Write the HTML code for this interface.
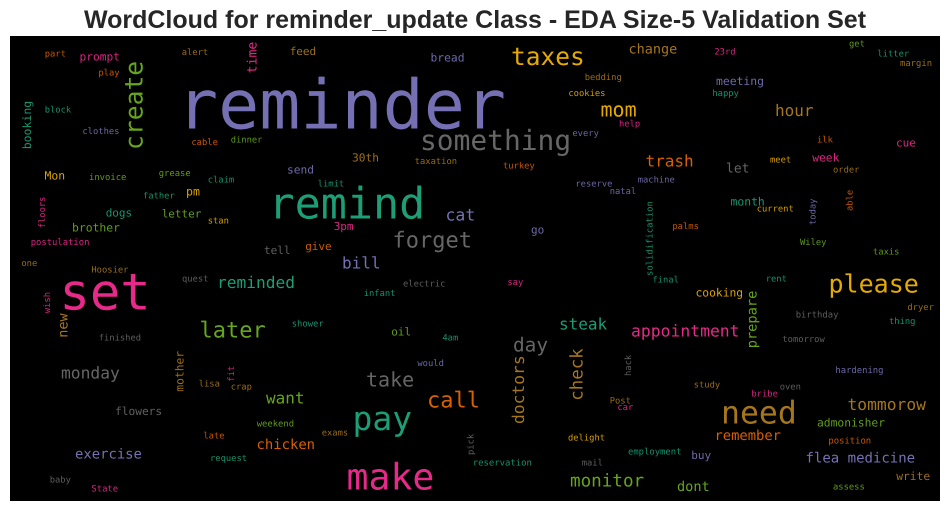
<!DOCTYPE html>
<html lang="en">
<head>
<meta charset="utf-8">
<title>WordCloud for reminder_update Class</title>
<style>
html,body{margin:0;padding:0;background:#fff;width:950px;height:511px;overflow:hidden}
svg{display:block}
#w text{font-family:"DejaVu Sans Mono","Liberation Mono",monospace;text-rendering:geometricPrecision}
.t{fill:#1b9e77}.o{fill:#d95f02}.p{fill:#7570b3}.k{fill:#e7298a}.g{fill:#66a61e}.y{fill:#e6ab02}.b{fill:#a6761d}.a{fill:#666666}
.s{opacity:.92}.m{opacity:.95}
</style>
</head>
<body>
<svg width="950" height="511" viewBox="0 0 950 511" xmlns="http://www.w3.org/2000/svg">
<defs><filter id="soft" x="-2%" y="-2%" width="104%" height="104%"><feGaussianBlur stdDeviation="0.25"/></filter></defs>
<text x="475" y="28" text-anchor="middle" font-family="'Liberation Sans',Arial,sans-serif" font-weight="700" font-size="25" fill="#262626">WordCloud for reminder_update Class - EDA Size-5 Validation Set</text>
<rect x="10" y="36" width="930" height="465" fill="#000"/>
<g id="w" filter="url(#soft)">
<text x="177" y="128.3" font-size="68.3" class="p">reminder</text>
<text x="268.5" y="218.3" font-size="43.4" class="t">remind</text>
<text x="59.5" y="309.3" font-size="50.5" class="k">set</text>
<text x="346.5" y="489.3" font-size="36.5" class="k">make</text>
<text x="352.5" y="430" font-size="33" class="t">pay</text>
<text x="721" y="423.3" font-size="31.5" class="b">need</text>
<text x="420" y="150" font-size="27.9" class="a">something</text>
<text x="828.5" y="292.3" font-size="25" class="y">please</text>
<text x="511" y="65" font-size="24.5" class="y">taxes</text>
<text x="142.7" y="150" font-size="24.7" class="g" transform="rotate(-90 142.7 150)">create</text>
<text x="199.5" y="337.3" font-size="22" class="g">later</text>
<text x="392.5" y="247.3" font-size="22" class="a">forget</text>
<text x="427" y="407.3" font-size="22" class="o">call</text>
<text x="600.5" y="116.7" font-size="20" class="y">mom</text>
<text x="366" y="386.7" font-size="20" class="a">take</text>
<text x="513" y="351.7" font-size="19.4" class="a">day</text>
<text x="570" y="486.7" font-size="17.6" class="g">monitor</text>
<text x="582.7" y="400.7" font-size="17.4" class="b" transform="rotate(-90 582.7 400.7)">check</text>
<text x="631" y="336.7" font-size="16.4" class="k">appointment</text>
<text x="524" y="424" font-size="16.3" class="b" transform="rotate(-90 524 424)">doctors</text>
<text x="61" y="378.3" font-size="16.3" class="a">monday</text>
<text x="847.5" y="410" font-size="16.3" class="b">tommorow</text>
<text x="217" y="288" font-size="16.2" class="t">reminded</text>
<text x="445.5" y="220.7" font-size="16.5" class="p">cat</text>
<text x="342" y="268.3" font-size="16" class="p">bill</text>
<text x="266" y="403.3" font-size="16" class="g">want</text>
<text x="559" y="329.3" font-size="16" class="t">steak</text>
<text x="775" y="116" font-size="16" class="b">hour</text>
<text x="645.5" y="166.7" font-size="16" class="o">trash</text>
<text x="805.5" y="462.7" font-size="14" class="p">flea medicine</text>
<text x="256.5" y="449" font-size="13.9" class="o">chicken</text>
<text x="75" y="458.3" font-size="13.9" class="p">exercise</text>
<text x="714.5" y="440" font-size="13.8" class="o">remember</text>
<text x="756.5" y="348.3" font-size="13.7" class="g" transform="rotate(-90 756.5 348.3)">prepare</text>
<text x="677" y="491" font-size="13.6" class="g">dont</text>
<text x="628.5" y="53.3" font-size="13.5" class="b">change</text>
<text x="67.3" y="337.7" font-size="13.5" class="b" transform="rotate(-90 67.3 337.7)">new</text>
<text x="256.7" y="73.3" font-size="13.1" class="k" transform="rotate(-90 256.7 73.3)">time</text>
<text x="726" y="172.3" font-size="13" class="a">let</text>
<text x="31" y="149.3" font-size="11.5" class="t m" transform="rotate(-90 31 149.3)">booking</text>
<text x="716" y="85" font-size="11.4" class="p m">meeting</text>
<text x="44.5" y="179.3" font-size="11.4" class="y m">Mon</text>
<text x="72" y="231.3" font-size="11.4" class="g m">brother</text>
<text x="730.5" y="205.7" font-size="11.4" class="t m">month</text>
<text x="186" y="195.7" font-size="11.6" class="y m">pm</text>
<text x="430.5" y="61.7" font-size="11.3" class="p m">bread</text>
<text x="695.5" y="296.7" font-size="11.3" class="y m">cooking</text>
<text x="183.3" y="391.7" font-size="11.3" class="b m" transform="rotate(-90 183.3 391.7)">mother</text>
<text x="812.2" y="161.7" font-size="11.3" class="k m">week</text>
<text x="817" y="426.7" font-size="11.3" class="g m">admonisher</text>
<text x="896.2" y="480" font-size="11.3" class="b m">write</text>
<text x="79.5" y="60.7" font-size="11.2" class="k m">prompt</text>
<text x="287" y="173.3" font-size="11.2" class="p m">send</text>
<text x="115" y="415" font-size="11.2" class="a m">flowers</text>
<text x="352" y="161.7" font-size="11.2" class="b m">30th</text>
<text x="289.7" y="55" font-size="11" class="b m">feed</text>
<text x="105.7" y="216.7" font-size="11" class="t m">dogs</text>
<text x="161.7" y="217.3" font-size="11" class="g m">letter</text>
<text x="264" y="254" font-size="11" class="a m">tell</text>
<text x="305.2" y="250" font-size="11" class="o m">give</text>
<text x="333.7" y="230" font-size="11" class="k m">3pm</text>
<text x="391.2" y="335.7" font-size="11" class="g m">oil</text>
<text x="531" y="233.3" font-size="11" class="p m">go</text>
<text x="691.3" y="459" font-size="11" class="p m">buy</text>
<text x="896" y="146.7" font-size="11" class="k m">cue</text>
<text x="44.7" y="56.7" font-size="8.8" class="o s">part</text>
<text x="98.4" y="75.3" font-size="8.8" class="o s">play</text>
<text x="181.7" y="55" font-size="8.8" class="b s">alert</text>
<text x="44.7" y="112.7" font-size="8.8" class="t s">block</text>
<text x="82.4" y="134" font-size="8.8" class="p s">clothes</text>
<text x="191.4" y="145" font-size="8.8" class="o s">cable</text>
<text x="230.7" y="142.7" font-size="8.8" class="g s">dinner</text>
<text x="89" y="180" font-size="8.9" class="g s">invoice</text>
<text x="158.7" y="176" font-size="8.9" class="g s">grease</text>
<text x="207.7" y="182.7" font-size="8.8" class="t s">claim</text>
<text x="143" y="198.7" font-size="8.8" class="t s">father</text>
<text x="207.7" y="223.7" font-size="8.8" class="y s">stan</text>
<text x="45" y="228.3" font-size="8.8" class="k s" transform="rotate(-90 45 228.3)">floors</text>
<text x="30.7" y="245" font-size="8.9" class="k s">postulation</text>
<text x="21.4" y="266" font-size="8.8" class="b s">one</text>
<text x="91.4" y="272.7" font-size="8.8" class="b s">Hoosier</text>
<text x="182" y="281.7" font-size="8.8" class="a s">quest</text>
<text x="50" y="313.3" font-size="8.9" class="k s" transform="rotate(-90 50 313.3)">wish</text>
<text x="291.7" y="326.7" font-size="8.9" class="t s">shower</text>
<text x="98.7" y="340.7" font-size="8.8" class="a s">finished</text>
<text x="234" y="381.7" font-size="8.8" class="k s" transform="rotate(-90 234 381.7)">fit</text>
<text x="198.7" y="386.7" font-size="8.8" class="b s">lisa</text>
<text x="230.7" y="389.3" font-size="8.8" class="b s">crap</text>
<text x="256.7" y="426.7" font-size="8.9" class="g s">weekend</text>
<text x="203.4" y="438.3" font-size="8.8" class="o s">late</text>
<text x="210" y="461" font-size="8.8" class="t s">request</text>
<text x="49.7" y="482.7" font-size="8.8" class="a s">baby</text>
<text x="91.4" y="491.7" font-size="8.9" class="k s">State</text>
<text x="584.7" y="80" font-size="8.8" class="b s">bedding</text>
<text x="568.4" y="96" font-size="8.8" class="y s">cookies</text>
<text x="619" y="126.7" font-size="8.8" class="k s">help</text>
<text x="572.4" y="136" font-size="8.8" class="p s">every</text>
<text x="414.7" y="164" font-size="8.8" class="b s">taxation</text>
<text x="503" y="168.3" font-size="8.8" class="o s">turkey</text>
<text x="317.7" y="186.7" font-size="8.8" class="t s">limit</text>
<text x="575.4" y="186.7" font-size="8.8" class="p s">reserve</text>
<text x="609.7" y="194" font-size="8.8" class="p s">natal</text>
<text x="403" y="286.7" font-size="8.8" class="a s">electric</text>
<text x="507.4" y="285" font-size="8.8" class="k s">say</text>
<text x="363.7" y="296" font-size="8.8" class="t s">infant</text>
<text x="442.4" y="340.3" font-size="8.8" class="t s">4am</text>
<text x="417.4" y="366" font-size="8.8" class="p s">would</text>
<text x="631" y="376" font-size="8.8" class="a s" transform="rotate(-90 631 376)">hack</text>
<text x="609.7" y="403.3" font-size="8.8" class="b s">Post</text>
<text x="617.4" y="410" font-size="8.8" class="k s">car</text>
<text x="321.7" y="435.7" font-size="8.8" class="b s">exams</text>
<text x="473.3" y="455" font-size="8.8" class="a s" transform="rotate(-90 473.3 455)">pick</text>
<text x="568" y="440.7" font-size="8.8" class="y s">delight</text>
<text x="628" y="454.7" font-size="8.9" class="t s">employment</text>
<text x="472.7" y="465.7" font-size="8.95" class="t s">reservation</text>
<text x="581.7" y="465.7" font-size="8.8" class="a s">mail</text>
<text x="714.4" y="54.3" font-size="8.8" class="k s">23rd</text>
<text x="849" y="46.7" font-size="8.8" class="g s">get</text>
<text x="877.4" y="56.7" font-size="8.8" class="t s">litter</text>
<text x="900" y="66" font-size="8.9" class="b s">margin</text>
<text x="712.4" y="96" font-size="8.8" class="t s">happy</text>
<text x="817" y="142.7" font-size="8.8" class="o s">ilk</text>
<text x="770" y="162.7" font-size="8.8" class="y s">meet</text>
<text x="833" y="172.7" font-size="8.8" class="b s">order</text>
<text x="637.7" y="182.3" font-size="8.8" class="p s">machine</text>
<text x="652.7" y="276" font-size="8.9" class="t s" transform="rotate(-90 652.7 276)">solidification</text>
<text x="756.7" y="211.7" font-size="8.8" class="y s">current</text>
<text x="815.3" y="225" font-size="8.8" class="p s" transform="rotate(-90 815.3 225)">today</text>
<text x="852.7" y="211" font-size="8.8" class="o s" transform="rotate(-90 852.7 211)">able</text>
<text x="672.4" y="229" font-size="8.8" class="o s">palms</text>
<text x="800" y="245" font-size="8.8" class="g s">Wiley</text>
<text x="873" y="254.3" font-size="8.8" class="g s">taxis</text>
<text x="652.4" y="282.3" font-size="8.8" class="t s">final</text>
<text x="765.7" y="281.7" font-size="8.8" class="t s">rent</text>
<text x="907.4" y="310" font-size="8.8" class="b s">dryer</text>
<text x="795.7" y="317.3" font-size="8.9" class="a s">birthday</text>
<text x="889" y="324" font-size="8.8" class="t s">thing</text>
<text x="782.4" y="342" font-size="8.8" class="a s">tomorrow</text>
<text x="835.4" y="373" font-size="8.9" class="p s">hardening</text>
<text x="693.7" y="387.3" font-size="8.8" class="b s">study</text>
<text x="779.7" y="389.3" font-size="8.8" class="a s">oven</text>
<text x="751.4" y="396.7" font-size="8.8" class="k s">bribe</text>
<text x="828.4" y="443.3" font-size="8.9" class="o s">position</text>
<text x="833" y="489.3" font-size="8.8" class="g s">assess</text>
</g>
</svg>
</body>
</html>
